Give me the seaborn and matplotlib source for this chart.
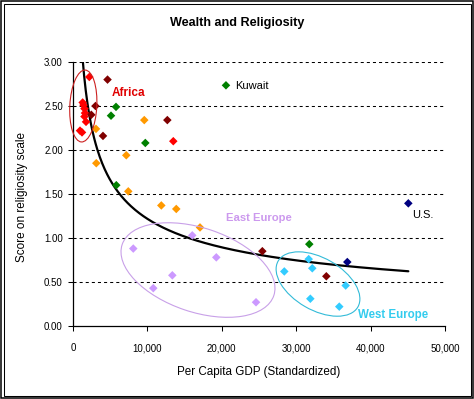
import numpy as np
import pandas as pd
import matplotlib
matplotlib.use("Agg")
import matplotlib.pyplot as plt
import seaborn as sns
from matplotlib.patches import Ellipse, Rectangle
from matplotlib.ticker import FuncFormatter

# ---------------- data ----------------
africa_x = [2190, 1300, 1410, 1540, 1610, 1540, 1750, 940, 1210, 13480]
africa_y = [2.83, 2.54, 2.51, 2.47, 2.42, 2.38, 2.32, 2.22, 2.20, 2.10]

darkred_x = [4640, 3020, 2460, 4030, 12680, 25450, 34050]
darkred_y = [2.80, 2.50, 2.40, 2.16, 2.34, 0.85, 0.565]

green_x = [5780, 5110, 9720, 5820, 20560, 31760]
green_y = [2.49, 2.39, 2.08, 1.60, 2.735, 0.93]

orange_x = [9580, 3090, 7160, 3130, 7430, 11870, 13880, 17070]
orange_y = [2.34, 2.24, 1.94, 1.85, 1.53, 1.37, 1.33, 1.12]

east_x = [16030, 8100, 19260, 13350, 10790, 24600]
east_y = [1.03, 0.88, 0.78, 0.576, 0.43, 0.27]

west_x = [31680, 28400, 32160, 36650, 31900, 35790]
west_y = [0.76, 0.62, 0.656, 0.46, 0.31, 0.22]

navy_x = [45070, 36870]
navy_y = [1.394, 0.727]

x_ticks = [0, 10000, 20000, 30000, 40000, 50000]
y_ticks = [0.0, 0.5, 1.0, 1.5, 2.0, 2.5, 3.0]

title = "Wealth and Religiosity"
x_label = "Per Capita GDP (Standardized)"
y_label = "Score on religiosity scale"

groups = {
    "Africa": (africa_x, africa_y, "#FF0000"),
    "Dark red": (darkred_x, darkred_y, "#800000"),
    "Green": (green_x, green_y, "#008000"),
    "Orange": (orange_x, orange_y, "#FF9900"),
    "East Europe": (east_x, east_y, "#CC99FF"),
    "West Europe": (west_x, west_y, "#33CCFF"),
    "Navy": (navy_x, navy_y, "#000080"),
}

rows = []
for g, (xs, ys, _) in groups.items():
    for xv, yv in zip(xs, ys):
        rows.append({"gdp": xv, "score": yv, "group": g})
df = pd.DataFrame(rows)
palette = {g: c for g, (_, _, c) in groups.items()}

# ---------------- styling ----------------
sns.set_theme(style="white")
plt.rcParams["font.family"] = ["Liberation Sans", "DejaVu Sans"]
plt.rcParams["lines.scale_dashes"] = False

W, H = 474, 399
fig = plt.figure(figsize=(W / 100, H / 100), dpi=100)
ax = fig.add_axes([73 / W, 1 - 326 / H, (445 - 73) / W, (326 - 62) / H])
ax.set_facecolor("white")

ax.set_xlim(0, 50000)
ax.set_ylim(0, 3.0)

# grid lines (dashed)
for yv in y_ticks[1:]:
    ax.axhline(yv, color="black", lw=0.75, ls=(0, (2.2, 2.2)), zorder=1)

# power trendline fitted to the data
b, loga = np.polyfit(np.log(df["gdp"]), np.log(df["score"]), 1)
xfit = np.linspace(df["gdp"].min(), df["gdp"].max(), 400)
yfit = np.exp(loga) * xfit ** b
sns.lineplot(x=xfit, y=yfit, color="black", lw=1.6, ax=ax, zorder=2)

sns.scatterplot(data=df, x="gdp", y="score", hue="group", palette=palette,
                marker="D", s=19, linewidth=0, legend=False, ax=ax, zorder=3)

# axes formatting
ax.set_xticks(x_ticks)
ax.set_yticks(y_ticks)
ax.xaxis.set_major_formatter(FuncFormatter(lambda v, p: f"{int(v):,}"))
ax.yaxis.set_major_formatter(FuncFormatter(lambda v, p: f"{v:.2f}"))
ax.tick_params(axis="both", which="major", labelsize=7, colors="black",
               direction="out", length=3.3, width=0.75)
ax.tick_params(axis="x", pad=9, bottom=True)
ax.tick_params(axis="y", pad=4, left=True)
for s in ["top", "right"]:
    ax.spines[s].set_visible(False)
for s in ["left", "bottom"]:
    ax.spines[s].set_color("black")
    ax.spines[s].set_linewidth(0.9)

ax.set_xlabel(x_label, fontsize=8.4, color="black")
ax.set_ylabel(y_label, fontsize=8.5, color="black")
ax.xaxis.label.set_va("center")
ax.yaxis.label.set_va("center")
ax.xaxis.set_label_coords(0.5, -0.174)
ax.yaxis.set_label_coords(-0.136, 0.49)

fig.text(0.4994, 1 - 23 / H, title, ha="center", va="center",
         fontsize=9.1, fontweight="bold", color="black")

# annotations
ax.text(5200, 2.65, "Africa", color="#E00000", fontsize=8.5, fontweight="bold",
        ha="left", va="center")
ax.text(20520, 1.23, "East Europe", color="#CC99EE", fontsize=8.1, fontweight="bold",
        ha="left", va="center")
ax.text(38350, 0.125, "West Europe", color="#33CCEE", fontsize=8.3, fontweight="bold",
        ha="left", va="center")
ax.text(21770, 2.73, "Kuwait", color="black", fontsize=8, ha="left", va="center")
ax.text(45520, 1.26, "U.S.", color="black", fontsize=8, ha="left", va="center")

# ellipses drawn in pixel space around data-space centres
fig.canvas.draw()
def pixel_ellipse(cx, cy, w_px, h_px, angle, color):
    px, py = ax.transData.transform((cx, cy))
    e = Ellipse((px, py), w_px, h_px, angle=angle, fill=False, edgecolor=color,
                lw=0.8, transform=None, zorder=2)
    fig.add_artist(e)

pixel_ellipse(1385, 2.50, 27, 72, -3, "#CC2020")
pixel_ellipse(16800, 0.636, 160, 84, -18.6, "#C8A0E8")
pixel_ellipse(32930, 0.477, 92, 52, -30, "#33BBD8")

# double border around the chart
fig.add_artist(Rectangle((0.75, 0.75), W - 1.5, H - 1.5, fill=False,
                         edgecolor="black", lw=1.1, transform=None))
fig.add_artist(Rectangle((3.5, 3.5), W - 7, H - 7, fill=False,
                         edgecolor="black", lw=0.75, transform=None))

fig.savefig("out.png", dpi=100)
